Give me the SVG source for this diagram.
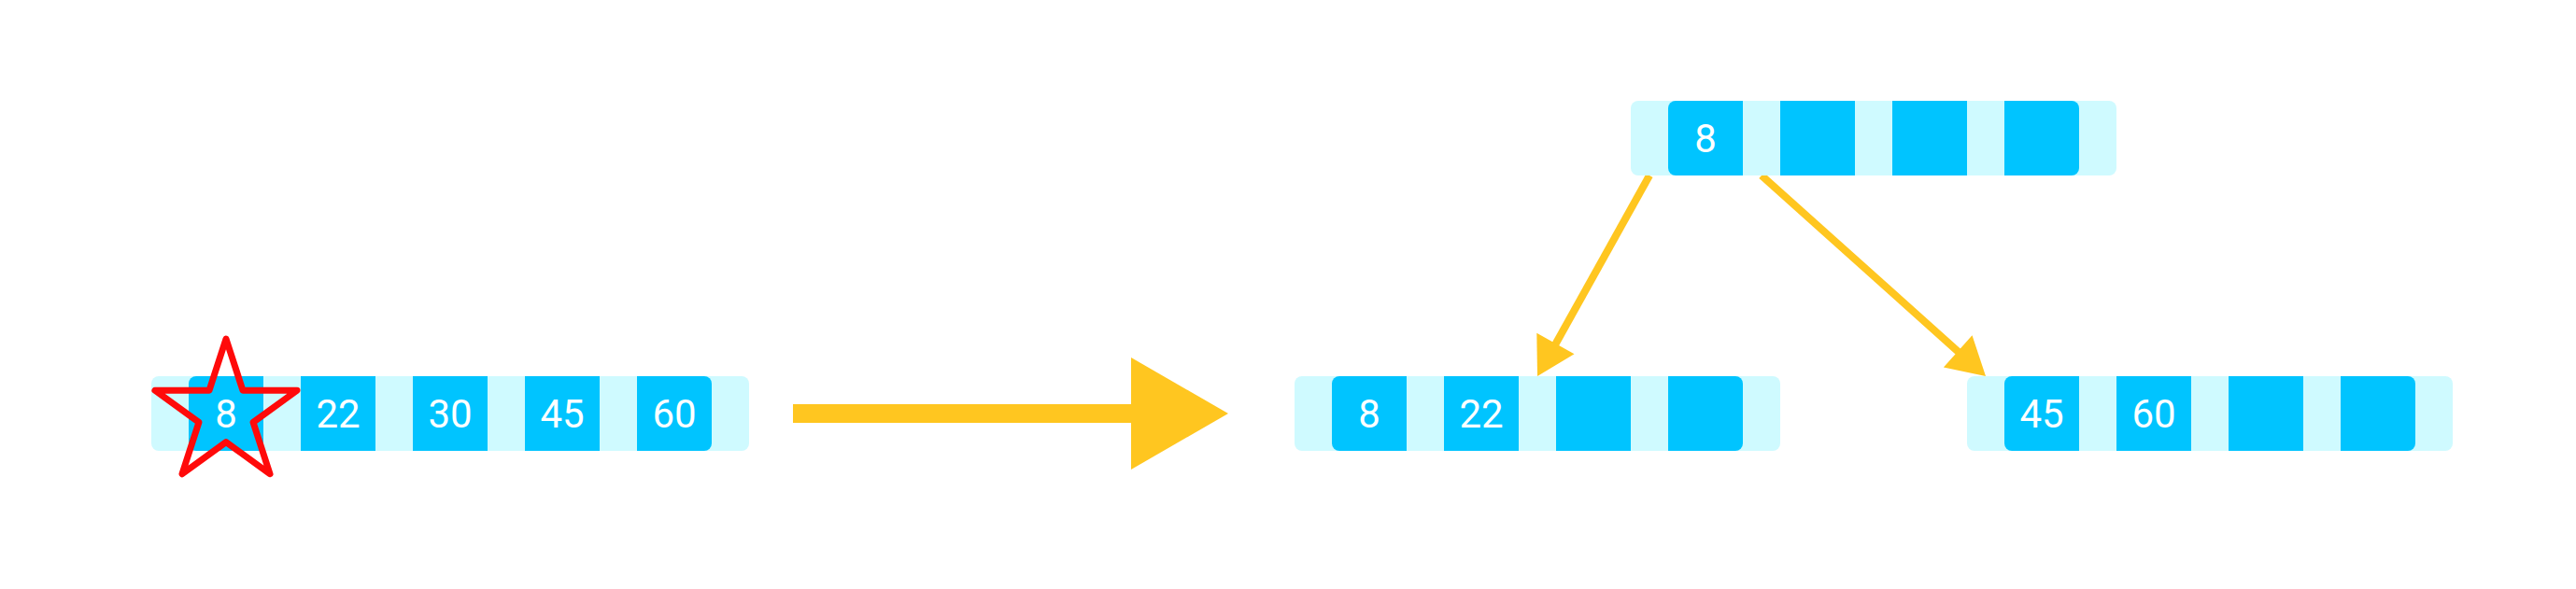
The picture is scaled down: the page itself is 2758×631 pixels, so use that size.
<svg xmlns="http://www.w3.org/2000/svg" width="2758" height="631" viewBox="0 0 2758 631">
  <style>
    .bg { fill: #CFFAFF; }
    .cell { fill: #00C4FF; }
    .label { fill: #FFFFFF; font-family: Roboto, "Liberation Sans", sans-serif; font-size: 42px; font-weight: 400; text-anchor: middle; }
    .conn { stroke: #FFC620; stroke-width: 8; fill: none; }
    .head { fill: #FFC620; }
    .star { fill: none; stroke: #FF0A0A; stroke-width: 7; stroke-linejoin: round; }
  </style>
  <rect width="2758" height="631" fill="#FFFFFF"/>

  <g id="connectors">
    <rect x="849" y="433" width="364" height="20" class="head"/>
    <polygon points="1211,383 1315,443 1211,503" class="head"/>
    <line x1="1766" y1="188" x2="1663" y2="373" class="conn"/>
    <polygon points="1646,403 1685.5,379.2 1645.3,356.8" class="head"/>
    <line x1="1886" y1="188" x2="2099" y2="379" class="conn"/>
    <polygon points="2126,403 2080.9,393.4 2111.5,359.2" class="head"/>
  </g>

  <g id="node-original">
    <rect x="162" y="403" width="640" height="80" rx="8" class="bg"/>
    <path d="M210,403 H282 V483 H210 A8,8 0 0 1 202,475 V411 A8,8 0 0 1 210,403 Z" class="cell"/>
    <rect x="322" y="403" width="80" height="80" class="cell"/>
    <rect x="442" y="403" width="80" height="80" class="cell"/>
    <rect x="562" y="403" width="80" height="80" class="cell"/>
    <path d="M682,403 H754 A8,8 0 0 1 762,411 V475 A8,8 0 0 1 754,483 H682 Z" class="cell"/>
    <text x="242" y="458" class="label">8</text>
    <text x="362" y="458" class="label">22</text>
    <text x="482" y="458" class="label">30</text>
    <text x="602" y="458" class="label">45</text>
    <text x="722" y="458" class="label">60</text>
  </g>

  <g id="highlight-star">
    <polygon points="242,363 259.96,418.28 318.08,418.28 271.06,452.44 289.02,507.72 242,473.56 194.98,507.72 212.94,452.44 165.92,418.28 224.04,418.28" class="star"/>
  </g>

  <g id="node-root">
    <rect x="1746" y="108" width="520" height="80" rx="8" class="bg"/>
    <path d="M1794,108 H1866 V188 H1794 A8,8 0 0 1 1786,180 V116 A8,8 0 0 1 1794,108 Z" class="cell"/>
    <rect x="1906" y="108" width="80" height="80" class="cell"/>
    <rect x="2026" y="108" width="80" height="80" class="cell"/>
    <path d="M2146,108 H2218 A8,8 0 0 1 2226,116 V180 A8,8 0 0 1 2218,188 H2146 Z" class="cell"/>
    <text x="1826" y="163" class="label">8</text>
  </g>

  <g id="node-left">
    <rect x="1386" y="403" width="520" height="80" rx="8" class="bg"/>
    <path d="M1434,403 H1506 V483 H1434 A8,8 0 0 1 1426,475 V411 A8,8 0 0 1 1434,403 Z" class="cell"/>
    <rect x="1546" y="403" width="80" height="80" class="cell"/>
    <rect x="1666" y="403" width="80" height="80" class="cell"/>
    <path d="M1786,403 H1858 A8,8 0 0 1 1866,411 V475 A8,8 0 0 1 1858,483 H1786 Z" class="cell"/>
    <text x="1466" y="458" class="label">8</text>
    <text x="1586" y="458" class="label">22</text>
  </g>

  <g id="node-right">
    <rect x="2106" y="403" width="520" height="80" rx="8" class="bg"/>
    <path d="M2154,403 H2226 V483 H2154 A8,8 0 0 1 2146,475 V411 A8,8 0 0 1 2154,403 Z" class="cell"/>
    <rect x="2266" y="403" width="80" height="80" class="cell"/>
    <rect x="2386" y="403" width="80" height="80" class="cell"/>
    <path d="M2506,403 H2578 A8,8 0 0 1 2586,411 V475 A8,8 0 0 1 2578,483 H2506 Z" class="cell"/>
    <text x="2186" y="458" class="label">45</text>
    <text x="2306" y="458" class="label">60</text>
  </g>
</svg>
